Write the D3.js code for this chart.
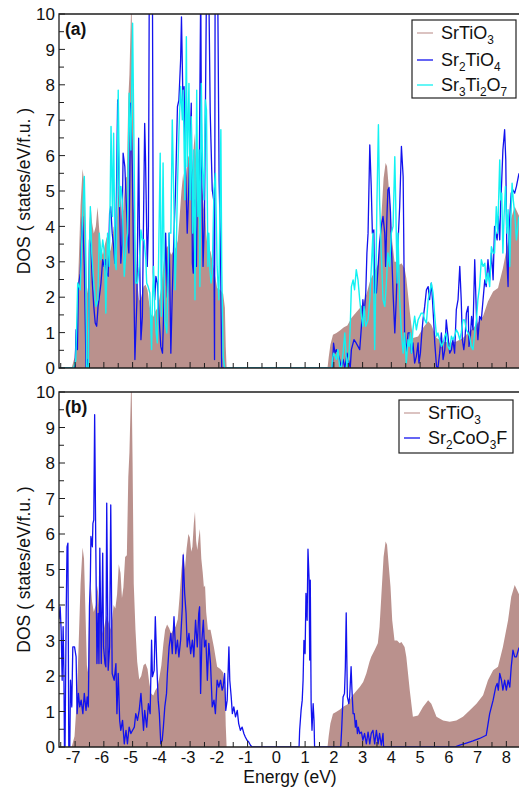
<!DOCTYPE html>
<html>
<head>
<meta charset="utf-8">
<script src="https://cdn.jsdelivr.net/npm/d3@7"></script>
<style>
  html, body { margin: 0; padding: 0; background: #fff; }
  svg { display: block; font-family: "Liberation Sans", Arial, Helvetica, sans-serif; }
</style>
</head>
<body>
<svg id="chart" width="519" height="787"></svg>
<script>
// Density of states, [energy (eV), states/eV/f.u.]
const srTiO3 = [
  [-7.56,0],[-7.12,0],[-7.02,0.3],[-6.95,1.2],[-6.88,2.8],[-6.81,4.6],[-6.74,5.62],[-6.69,5.3],[-6.64,3.8],
  [-6.59,2.3],[-6.55,2.1],[-6.51,3.9],[-6.46,4.6],[-6.41,4.1],[-6.35,3.8],[-6.28,4.0],[-6.22,4.55],[-6.16,3.9],
  [-6.10,3.4],[-6.03,3.2],[-5.96,3.5],[-5.90,3.7],[-5.83,3.5],[-5.77,3.3],[-5.71,3.6],[-5.66,4.0],[-5.60,3.9],
  [-5.54,4.3],[-5.48,5.15],[-5.42,4.9],[-5.37,4.2],[-5.32,4.5],[-5.26,5.35],[-5.20,5.4],[-5.15,7.6],[-5.11,8.3],
  [-5.07,9.6],[-5.04,10.6],[-5.00,8.0],[-4.96,4.6],[-4.90,3.3],[-4.84,2.4],[-4.77,1.9],[-4.70,2.0],[-4.62,2.3],
  [-4.55,2.35],[-4.48,2.2],[-4.42,1.8],[-4.35,1.5],[-4.28,1.45],[-4.21,1.6],[-4.13,1.7],[-4.06,2.0],[-4.00,2.3],
  [-3.93,2.9],[-3.87,3.3],[-3.80,3.45],[-3.73,3.35],[-3.66,3.2],[-3.58,3.3],[-3.50,3.4],[-3.43,3.6],[-3.37,4.2],
  [-3.30,5.0],[-3.24,5.5],[-3.18,5.0],[-3.12,5.6],[-3.06,6.0],[-3.01,5.9],[-2.96,5.5],[-2.92,5.64],[-2.87,6.3],
  [-2.83,6.63],[-2.79,5.8],[-2.75,5.55],[-2.70,5.9],[-2.66,6.14],[-2.61,5.3],[-2.56,4.9],[-2.52,4.5],[-2.48,4.55],
  [-2.44,3.8],[-2.38,3.3],[-2.29,3.3],[-2.17,2.8],[-2.06,2.26],[-1.95,2.2],[-1.85,2.1],[-1.79,1.7],[-1.76,0.6],
  [-1.73,0],
  [1.78,0],[1.82,0.3],[1.88,0.66],[1.97,0.94],[2.09,0.99],[2.20,1.05],[2.35,1.15],[2.47,1.2],[2.61,1.41],
  [2.75,1.55],[2.90,1.69],[3.02,1.83],[3.13,2.07],[3.24,2.4],[3.30,2.54],[3.42,2.73],[3.53,2.92],[3.59,3.39],
  [3.65,4.23],[3.73,5.36],[3.80,5.79],[3.85,5.7],[3.90,5.2],[3.97,4.52],[4.03,3.57],[4.11,3.0],[4.20,3.0],
  [4.29,2.92],[4.35,2.96],[4.46,2.82],[4.52,2.54],[4.64,1.6],[4.75,0.85],[4.93,0.89],[5.10,1.13],[5.28,1.32],
  [5.39,1.22],[5.57,0.85],[5.80,0.75],[6.03,0.71],[6.26,0.75],[6.49,0.85],[6.72,1.03],[6.96,1.22],[7.19,1.46],
  [7.36,1.88],[7.54,2.16],[7.71,2.26],[7.88,2.82],[8.06,3.57],[8.17,4.23],[8.29,4.56],[8.44,4.3]
];

const sr2TiO4 = [
  [-7.56,0],[-7.0,0],[-6.965,1.08],[-6.92,0.52],[-6.885,2.30],[-6.82,2.68],[-6.77,3.81],[-6.74,4.28],[-6.68,2.87],
  [-6.64,0.99],[-6.62,0],[-6.58,0.24],[-6.54,0],[-6.50,3.62],[-6.45,3.43],[-6.40,2.40],[-6.35,1.74],[-6.30,1.27],
  [-6.25,1.18],[-6.20,1.74],[-6.14,2.12],[-6.10,2.40],[-6.04,3.06],[-5.99,2.87],[-5.94,3.06],[-5.90,2.68],
  [-5.85,2.59],[-5.80,4.37],[-5.76,4.56],[-5.71,3.81],[-5.66,3.43],[-5.62,2.96],[-5.58,3.81],[-5.52,7.57],
  [-5.46,4.75],[-5.41,2.96],[-5.37,3.5],[-5.33,6.07],[-5.27,5.69],[-5.18,3.81],[-5.13,3.25],[-5.10,5.13],
  [-5.07,7.48],[-5.01,5.69],[-4.92,0.24],[-4.85,1.93],[-4.79,6.49],[-4.75,2.87],[-4.71,0.80],[-4.66,1.46],
  [-4.58,6.91],[-4.55,5.88],[-4.49,2.87],[-4.45,4.0],[-4.42,10.8],[-4.31,10.8],[-4.28,2.68],[-4.23,1.93],
  [-4.19,2.59],[-4.14,2.40],[-4.08,1.46],[-4.02,0.61],[-3.96,0.42],[-3.90,2.12],[-3.85,3.81],[-3.79,2.0],
  [-3.73,3.81],[-3.67,0.42],[-3.62,2.12],[-3.56,3.81],[-3.51,4.93],[-3.44,7.38],[-3.39,7.57],[-3.33,8.70],
  [-3.30,9.92],[-3.24,7.10],[-3.21,7.95],[-3.16,5.69],[-3.10,3.81],[-3.04,5.22],[-2.96,7.48],[-2.92,2.96],
  [-2.89,2.68],[-2.84,4.75],[-2.78,2.87],[-2.74,5.69],[-2.69,4.75],[-2.63,10.8],[-2.60,5.69],[-2.55,2.87],
  [-2.50,4.28],[-2.43,10.8],[-2.35,10.8],[-2.30,7.20],[-2.23,5.03],[-2.18,4.75],[-2.15,0.24],[-2.13,10.8],
  [-2.04,10.8],[-1.99,5.26],[-1.95,3.81],[-1.90,0],
  [1.95,0],[1.99,0.70],[2.04,0.42],[2.09,0.52],[2.14,0.42],[2.20,0.24],[2.26,0],[2.32,0.24],[2.38,0],[2.46,0.42],
  [2.53,0.14],[2.57,0],[2.61,0.52],[2.70,0.80],[2.78,0.70],[2.84,0.61],[2.90,0.52],[2.96,1.18],[3.01,1.93],
  [3.05,1.46],[3.11,2.12],[3.15,3.25],[3.19,3.81],[3.25,6.30],[3.30,5.13],[3.34,3.81],[3.39,3.90],[3.42,2.12],
  [3.48,2.12],[3.54,2.87],[3.59,3.53],[3.65,4.0],[3.71,4.28],[3.77,3.81],[3.80,2.87],[3.85,4.37],[3.88,5.03],
  [3.92,5.1],[3.97,4.4],[4.00,3.5],[4.06,2.12],[4.12,0.99],[4.17,1.93],[4.23,3.5],[4.29,4.56],[4.35,6.26],
  [4.41,5.41],[4.43,3.81],[4.46,0.99],[4.52,0.42],[4.58,0.99],[4.64,0.99],[4.70,0.42],[4.75,0.71],[4.81,0.14],
  [4.87,0.33],[4.93,0.71],[4.96,0.14],[5.01,0.42],[5.06,0.99],[5.10,1.36],[5.16,1.74],[5.22,2.21],[5.28,2.30],
  [5.33,1.93],[5.39,2.40],[5.43,1.93],[5.47,1.36],[5.51,0.71],[5.57,0.05],[5.62,0],[5.68,0.42],[5.74,0.99],
  [5.80,0.24],[5.86,0.52],[5.91,1.36],[5.97,0.90],[6.03,0.42],[6.09,0.52],[6.14,0.80],[6.20,0.42],[6.26,1.65],
  [6.32,1.93],[6.38,2.87],[6.43,1.93],[6.47,0.80],[6.52,0.52],[6.56,0.80],[6.61,1.55],[6.67,1.74],[6.70,0.61],
  [6.75,0.90],[6.79,1.46],[6.84,1.08],[6.90,3.06],[6.96,1.46],[7.01,0.80],[7.07,1.46],[7.13,1.36],[7.19,1.93],
  [7.25,2.49],[7.30,2.30],[7.36,3.06],[7.42,2.49],[7.48,3.25],[7.54,2.49],[7.59,4.0],[7.63,3.81],[7.68,3.62],
  [7.72,4.28],[7.77,3.62],[7.80,4.56],[7.84,5.32],[7.88,6.16],[7.94,6.73],[7.98,5.88],[8.02,3.06],[8.06,2.30],
  [8.09,3.81],[8.14,4.56],[8.17,4.94],[8.23,5.03],[8.29,4.94],[8.35,5.13],[8.44,5.5]
];

const sr3Ti2O7 = [
  [-7.56,0],[-7.05,0],[-6.98,0.2],[-6.95,1.0],[-6.91,2.4],[-6.82,2.21],[-6.74,4.28],[-6.68,5.41],[-6.63,3.34],
  [-6.60,0],[-6.54,0],[-6.49,3.81],[-6.47,4.56],[-6.42,3.25],[-6.35,2.40],[-6.27,1.74],[-6.21,1.93],[-6.16,3.81],
  [-6.10,3.06],[-6.04,3.62],[-5.98,3.25],[-5.93,1.55],[-5.87,3.81],[-5.81,2.87],[-5.75,6.82],[-5.70,4.28],
  [-5.66,6.63],[-5.61,2.96],[-5.57,2.78],[-5.50,7.85],[-5.45,4.56],[-5.41,5.13],[-5.36,4.75],[-5.29,2.59],
  [-5.23,3.34],[-5.18,3.81],[-5.12,7.76],[-5.06,6.16],[-5.00,9.74],[-4.97,7.57],[-4.92,3.81],[-4.89,2.40],
  [-4.83,2.40],[-4.77,2.87],[-4.71,3.90],[-4.66,3.62],[-4.60,3.62],[-4.54,3.06],[-4.51,2.40],[-4.46,2.30],
  [-4.40,2.12],[-4.34,0.52],[-4.31,1.93],[-4.27,2.87],[-4.23,1.65],[-4.18,0.99],[-4.14,0.71],[-4.04,6.07],
  [-4.00,1.46],[-3.94,5.79],[-3.88,1.36],[-3.81,0.99],[-3.73,3.81],[-3.67,3.81],[-3.62,7.01],[-3.56,4.47],
  [-3.52,2.21],[-3.48,3.34],[-3.44,5.13],[-3.39,6.63],[-3.33,7.95],[-3.27,7.01],[-3.24,7.85],[-3.18,4.75],
  [-3.13,9.36],[-3.10,5.69],[-3.04,8.04],[-3.00,4.75],[-2.96,7.10],[-2.91,3.81],[-2.87,6.16],[-2.83,1.93],
  [-2.77,7.85],[-2.73,4.28],[-2.69,6.16],[-2.66,2.30],[-2.61,8.04],[-2.57,5.69],[-2.52,4.75],[-2.47,7.57],
  [-2.43,7.29],[-2.38,2.87],[-2.35,3.81],[-2.31,2.78],[-2.27,2.40],[-2.23,2.68],[-2.17,5.03],[-2.12,5.50],
  [-2.06,2.87],[-2.00,1.93],[-1.93,6.73],[-1.90,2.87],[-1.85,0.33],[-1.80,0],
  [1.93,0],[1.95,0.24],[1.99,0.42],[2.04,0.33],[2.09,0.24],[2.14,0.52],[2.20,0.05],[2.26,0],[2.32,0.42],
  [2.38,0.99],[2.42,0.42],[2.46,0],[2.53,0.42],[2.57,1.18],[2.61,2.30],[2.67,2.49],[2.72,2.21],[2.78,2.78],
  [2.84,2.49],[2.90,1.93],[2.96,1.46],[3.01,1.18],[3.05,1.74],[3.11,1.18],[3.19,1.36],[3.25,1.93],[3.30,2.78],
  [3.36,3.81],[3.42,0.52],[3.45,1.93],[3.50,4.75],[3.55,6.87],[3.59,4.75],[3.65,3.25],[3.71,1.93],[3.77,1.74],
  [3.82,2.30],[3.88,3.25],[3.94,2.87],[4.00,3.81],[4.06,4.0],[4.12,5.97],[4.15,4.75],[4.20,2.40],[4.23,3.81],
  [4.29,1.93],[4.35,0.99],[4.41,0.42],[4.46,0.99],[4.52,0.14],[4.58,0.80],[4.62,0.61],[4.66,0.99],[4.70,0.42],
  [4.75,1.08],[4.81,1.46],[4.87,1.08],[4.93,1.36],[4.99,1.46],[5.04,1.55],[5.10,1.55],[5.16,1.36],[5.22,1.27],
  [5.28,1.93],[5.33,2.12],[5.39,2.40],[5.45,2.12],[5.51,1.46],[5.57,0.90],[5.62,0.99],[5.68,0.80],[5.74,0.61],
  [5.80,0.71],[5.86,0.90],[5.91,0.99],[5.97,0.61],[6.03,0.52],[6.09,0.90],[6.14,0.80],[6.20,0.90],[6.26,1.08],
  [6.32,0.99],[6.38,0.80],[6.43,0.99],[6.49,1.36],[6.55,1.36],[6.61,1.08],[6.67,0.99],[6.72,0.90],[6.78,0.61],
  [6.84,0.52],[6.90,0.99],[6.96,1.36],[7.01,1.93],[7.07,2.30],[7.13,3.06],[7.19,2.87],[7.25,2.96],[7.30,2.40],
  [7.36,2.68],[7.42,2.30],[7.48,3.43],[7.54,3.25],[7.59,3.25],[7.65,4.56],[7.70,3.81],[7.77,5.88],[7.80,4.75],
  [7.84,4.94],[7.88,3.25],[7.92,4.28],[7.97,5.13],[8.02,3.81],[8.06,4.47],[8.12,2.87],[8.17,4.56],[8.20,5.22],
  [8.24,4.75],[8.29,4.37],[8.35,3.62],[8.44,4.28]
];

const sr2CoO3F = [
  [-7.56,3.6],[-7.52,3.95],[-7.485,3.29],[-7.45,1.88],[-7.416,3.39],[-7.39,2.16],[-7.37,0],[-7.35,0],[-7.31,3.76],
  [-7.28,5.64],[-7.25,5.74],[-7.22,0],[-7.185,0],[-7.16,1.88],[-7.115,1.13],[-7.08,2.82],[-7.02,2.82],
  [-6.965,2.54],[-6.93,0.94],[-6.885,1.51],[-6.84,1.13],[-6.79,1.32],[-6.73,0.94],[-6.68,1.51],[-6.62,1.03],
  [-6.58,1.41],[-6.54,1.13],[-6.50,3.95],[-6.47,4.70],[-6.45,5.93],[-6.40,5.64],[-6.38,6.30],[-6.35,6.40],
  [-6.32,9.36],[-6.28,5.64],[-6.24,2.35],[-6.20,3.76],[-6.17,2.35],[-6.14,5.6],[-6.09,2.35],[-6.04,5.46],
  [-6.01,2.82],[-5.96,2.35],[-5.93,2.26],[-5.90,6.87],[-5.85,2.16],[-5.80,2.82],[-5.76,6.82],[-5.71,2.07],
  [-5.64,1.88],[-5.58,2.35],[-5.545,0.94],[-5.50,2.07],[-5.45,0.75],[-5.41,0.47],[-5.35,0.75],[-5.29,0.09],
  [-5.23,0.47],[-5.18,0.09],[-5.12,0.56],[-5.06,0.38],[-5.00,0.47],[-4.94,0.56],[-4.89,0.94],[-4.83,0.75],
  [-4.77,1.03],[-4.71,1.51],[-4.66,0.94],[-4.62,0.47],[-4.58,1.03],[-4.51,0.56],[-4.45,1.22],[-4.39,0.94],
  [-4.34,3.01],[-4.31,1.98],[-4.25,2.16],[-4.21,3.67],[-4.16,2.35],[-4.11,1.32],[-4.07,0.94],[-4.02,0.09],
  [-3.97,0.19],[-3.93,0.56],[-3.88,1.13],[-3.82,1.51],[-3.79,2.07],[-3.73,2.82],[-3.67,3.20],[-3.62,2.63],
  [-3.56,3.67],[-3.50,2.63],[-3.44,3.01],[-3.39,2.54],[-3.33,3.01],[-3.27,3.95],[-3.24,5.41],[-3.19,4.33],
  [-3.14,3.76],[-3.10,2.82],[-3.04,3.20],[-2.98,2.63],[-2.92,3.01],[-2.87,2.54],[-2.81,3.57],[-2.75,2.82],
  [-2.70,3.76],[-2.67,3.95],[-2.635,1.51],[-2.59,3.01],[-2.54,3.57],[-2.50,2.82],[-2.45,3.01],[-2.40,1.88],
  [-2.35,2.92],[-2.29,2.35],[-2.23,1.13],[-2.17,1.32],[-2.12,0.94],[-2.06,1.88],[-2.00,1.69],[-1.94,1.88],
  [-1.885,1.6],[-1.85,1.69],[-1.80,2.07],[-1.76,1.03],[-1.71,1.32],[-1.65,2.82],[-1.62,1.88],[-1.57,1.41],
  [-1.53,0.94],[-1.48,1.13],[-1.42,0.85],[-1.36,1.03],[-1.31,0.66],[-1.25,0.47],[-1.19,0.56],[-1.13,0.38],
  [-1.08,0.28],[-1.02,0.19],[-0.96,0.14],[-0.90,0.05],[-0.845,0],
  [0.79,0],[0.81,0.47],[0.86,1.03],[0.90,1.32],[0.93,1.88],[0.96,3.0],[1.00,2.63],[1.03,4.33],[1.07,3.57],
  [1.10,5.57],[1.14,4.70],[1.16,2.45],[1.18,4.70],[1.21,1.22],[1.24,0.47],[1.28,1.22],[1.31,0.75],[1.33,0],
  [2.24,0],[2.27,0.47],[2.32,1.41],[2.37,1.51],[2.40,2.26],[2.43,3.78],[2.47,1.41],[2.52,1.22],[2.55,1.41],
  [2.60,2.26],[2.63,1.6],[2.67,0.94],[2.71,0.94],[2.75,0.56],[2.78,0.75],[2.82,0.38],[2.85,0.56],[2.90,0.38],
  [2.96,0.42],[3.01,0.19],[3.07,0.38],[3.13,0.09],[3.19,0.42],[3.25,0.09],[3.30,0.38],[3.36,0.47],[3.42,0.09],
  [3.48,0.47],[3.54,0.09],[3.59,0.38],[3.65,0.05],[3.71,0.38],[3.73,0],
  [6.20,0],[6.38,0.05],[6.61,0.11],[6.84,0.17],[7.07,0.24],[7.30,0.33],[7.42,0.94],[7.54,1.32],[7.63,1.69],
  [7.68,1.79],[7.72,1.6],[7.77,2.07],[7.83,1.88],[7.88,1.6],[7.94,1.88],[8.00,1.6],[8.06,1.88],[8.12,1.69],
  [8.17,2.26],[8.23,2.73],[8.29,2.54],[8.35,2.54],[8.44,2.8]
];

const xTickLabels = d3.range(-7, 9);          // -7 ... 8 eV
const yTickLabels = d3.range(0, 11);          // 0 ... 10
const panelNames = ["(a)", "(b)"];
const seriesNamesA = ["SrTiO3", "Sr2TiO4", "Sr3Ti2O7"];
const seriesNamesB = ["SrTiO3", "Sr2CoO3F"];

const colors = {
  fill: "#ba918d",
  fillLegend: "#c7a39f",
  blue: "#1212ee",
  cyan: "#12f2f2",
  axis: "#1e1e1e"
};

const svg = d3.select("#chart");
const plotLeft = 59, plotRight = 519;
const x = d3.scaleLinear().domain([-7.56, 8.44]).range([plotLeft, plotRight]);

const panels = [
  {
    top: 14, bottom: 368, name: panelNames[0], showX: false,
    area: srTiO3,
    lines: [{ data: sr2TiO4, color: colors.blue, width: 1.3 }, { data: sr3Ti2O7, color: colors.cyan, width: 1.4 }],
    legend: { x0: 412, y0: 20, w: 104, h: 78, rows: [33, 60, 85],
      items: [
        { name: seriesNamesA[0], color: colors.fillLegend },
        { name: seriesNamesA[1], color: colors.blue },
        { name: seriesNamesA[2], color: colors.cyan }
      ] }
  },
  {
    top: 392, bottom: 747, name: panelNames[1], showX: true,
    area: srTiO3,
    lines: [{ data: sr2CoO3F, color: colors.blue, width: 1.3 }],
    legend: { x0: 399, y0: 400, w: 114, h: 53, rows: [413, 438],
      items: [
        { name: seriesNamesB[0], color: colors.fillLegend },
        { name: seriesNamesB[1], color: colors.blue }
      ] }
  }
];

// Write a chemical formula with its digits as subscripts
function formula(sel, text, size) {
  const parts = text.match(/\d+|\D+/g);
  let lowered = false;
  parts.forEach(p => {
    const isSub = /^\d+$/.test(p);
    const t = sel.append("tspan").text(p);
    if (isSub) {
      t.attr("font-size", size * 0.66).attr("dy", lowered ? 0 : 5);
      lowered = true;
    } else {
      t.attr("font-size", size).attr("dy", lowered ? -5 : 0);
      lowered = false;
    }
  });
}

panels.forEach((p, i) => {
  const y = d3.scaleLinear().domain([0, 10]).range([p.bottom, p.top]);
  const g = svg.append("g");

  const clipId = "clip" + i;
  svg.append("clipPath").attr("id", clipId)
    .append("rect").attr("x", plotLeft).attr("y", p.top)
    .attr("width", plotRight - plotLeft).attr("height", p.bottom - p.top);

  const plot = g.append("g").attr("clip-path", `url(#${clipId})`);

  const area = d3.area().x(d => x(d[0])).y0(y(0)).y1(d => y(d[1]));
  plot.append("path").datum(p.area).attr("d", area).attr("fill", colors.fill);

  const line = d3.line().x(d => x(d[0])).y(d => y(d[1]));
  p.lines.forEach(s => {
    plot.append("path").datum(s.data).attr("d", line)
      .attr("fill", "none").attr("stroke", s.color)
      .attr("stroke-width", s.width).attr("stroke-linejoin", "round");
  });

  // frame: left, top and bottom edges
  g.append("path")
    .attr("d", `M${plotRight},${p.top}H${plotLeft}V${p.bottom}H${plotRight}`)
    .attr("fill", "none").attr("stroke", colors.axis).attr("stroke-width", 1.3);

  // y ticks, inward, every 0.5
  const yTicks = d3.range(0, 10.01, 0.5);
  g.selectAll(".yt").data(yTicks).enter().append("line")
    .attr("x1", plotLeft).attr("x2", d => plotLeft + (d % 1 === 0 ? 6 : 5))
    .attr("y1", d => y(d)).attr("y2", d => y(d))
    .attr("stroke", colors.axis).attr("stroke-width", 1);

  g.selectAll(".yl").data(yTickLabels).enter().append("text")
    .attr("x", 55).attr("y", d => y(d)).attr("dy", "0.36em")
    .attr("text-anchor", "end").attr("font-size", 17).attr("fill", "#111")
    .text(d => d);

  // x ticks, inward, every 0.5 eV
  const xTicks = d3.range(-7.5, 8.01, 0.5);
  g.selectAll(".xt").data(xTicks).enter().append("line")
    .attr("x1", d => x(d)).attr("x2", d => x(d))
    .attr("y1", p.bottom).attr("y2", d => p.bottom - (d % 1 === 0 ? 6 : 5))
    .attr("stroke", colors.axis).attr("stroke-width", 1);

  if (p.showX) {
    g.selectAll(".xl").data(xTickLabels).enter().append("text")
      .attr("x", d => x(d) - (d < 0 ? 2 : 0)).attr("y", 762.5)
      .attr("text-anchor", "middle").attr("font-size", 16.5).attr("fill", "#111")
      .text(d => d);
    g.append("text").attr("x", 290).attr("y", 782.5)
      .attr("text-anchor", "middle").attr("font-size", 17.5).attr("fill", "#111")
      .text("Energy (eV)");
  }

  // y axis title
  g.append("text")
    .attr("transform", `translate(30,${(p.top + p.bottom) / 2}) rotate(-90)`)
    .attr("text-anchor", "middle").attr("font-size", 17.5).attr("fill", "#111")
    .text("DOS ( states/eV/f.u. )");

  // panel tag
  g.append("text").attr("x", 65).attr("y", p.top + 21)
    .attr("font-size", 17.5).attr("font-weight", "bold").attr("fill", "#111")
    .text(p.name);

  // legend
  const L = p.legend;
  g.append("rect").attr("x", L.x0).attr("y", L.y0).attr("width", L.w).attr("height", L.h)
    .attr("fill", "#fff").attr("stroke", "#222").attr("stroke-width", 1.2);
  L.items.forEach((it, k) => {
    const ly = L.rows[k];
    g.append("line").attr("x1", L.x0 + 5).attr("x2", L.x0 + 21)
      .attr("y1", ly).attr("y2", ly)
      .attr("stroke", it.color).attr("stroke-width", 1.3);
    const t = g.append("text").attr("x", L.x0 + 29).attr("y", ly + 5.5)
      .attr("fill", "#111");
    formula(t, it.name, 18);
  });
});
</script>
</body>
</html>
